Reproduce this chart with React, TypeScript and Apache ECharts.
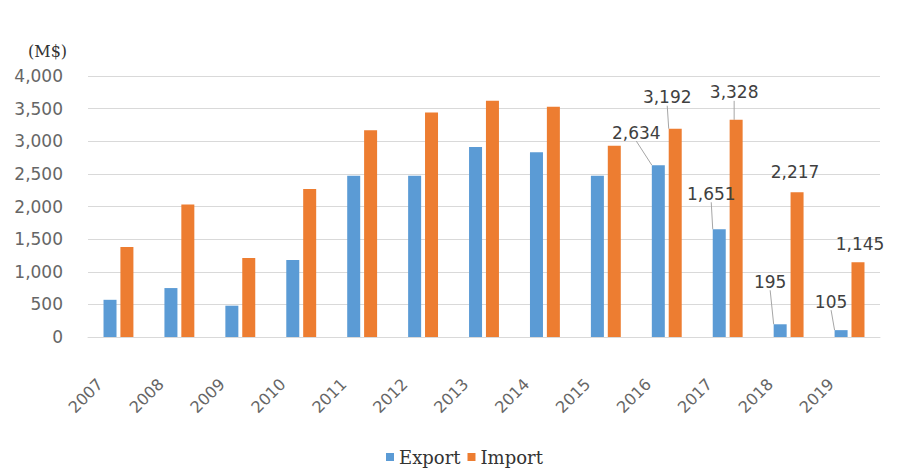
import React, { useEffect, useRef } from "react";
import * as echarts from "echarts";

const years = ["2007", "2008", "2009", "2010", "2011", "2012", "2013", "2014", "2015", "2016", "2017", "2018", "2019"];
const exportValues = [570, 750, 480, 1180, 2470, 2470, 2910, 2830, 2470, 2634, 1651, 195, 105];
const importValues = [1380, 2030, 1210, 2270, 3170, 3440, 3620, 3530, 2930, 3192, 3328, 2217, 1145];
const labeledIndices = [9, 10, 11, 12];
const unitLabel = "(M$)";
const seriesNames = ["Export", "Import"];

// label displacement (styling only): [dx, dy, showLine]
const labelShift: Record<string, [number, number, boolean]> = {
  "0-9": [-22, -19, true],
  "0-10": [-8, -22, true],
  "0-11": [-10, -29, true],
  "0-12": [-10, -15, true],
  "1-9": [-8, -18, true],
  "1-10": [-2, -14, true],
  "1-11": [-2, -7, false],
  "1-12": [2, -5, false],
};

const fmt = (v: number) => v.toLocaleString("en-US");

function buildData(values: number[], seriesIndex: number) {
  return values.map((v, i) => {
    if (!labeledIndices.includes(i)) return { value: v };
    const s = labelShift[`${seriesIndex}-${i}`];
    return {
      value: v,
      label: { show: true },
      labelLine: { show: s ? s[2] : false },
    };
  });
}

export default function App() {
  const ref = useRef<HTMLDivElement>(null);
  useEffect(() => {
    if (!ref.current) return;
    const chart = echarts.init(ref.current, undefined, { renderer: "svg" });
    const labelCommon = {
      show: false,
      position: "top",
      distance: 5,
      fontFamily: "DejaVu Sans",
      fontSize: 17,
      color: "#404040",
      formatter: (p: any) => fmt(p.value),
    };
    const labelLineCommon = {
      show: false,
      lineStyle: { color: "#a6a6a6", width: 1 },
    };
    const labelLayout = (params: any) => {
      const s = labelShift[`${params.seriesIndex}-${params.dataIndex}`];
      if (!s) return {};
      return { dx: s[0], dy: s[1] };
    };
    chart.setOption({
      animation: false,
      backgroundColor: "#ffffff",
      title: {
        text: unitLabel,
        left: 23,
        top: 38,
        textStyle: { fontFamily: "DejaVu Serif", fontSize: 16, fontWeight: "normal", color: "#333333" },
      },
      legend: {
        data: seriesNames,
        left: 381,
        top: 443,
        icon: "rect",
        itemWidth: 8,
        itemHeight: 8,
        itemGap: 7,
        textStyle: { fontFamily: "DejaVu Serif", fontSize: 18, color: "#333333" },
      },
      grid: { left: 88, right: 20, top: 76, bottom: 132, containLabel: false },
      xAxis: {
        type: "category",
        data: years,
        axisLine: { lineStyle: { color: "#d9d9d9" } },
        axisTick: { show: false },
        axisLabel: {
          interval: 0,
          rotate: 45,
          margin: 26,
          padding: [0, 26, 0, 0],
          fontFamily: "DejaVu Sans",
          fontSize: 16,
          color: "#666666",
        },
      },
      yAxis: {
        type: "value",
        min: 0,
        max: 4000,
        interval: 500,
        axisLine: { show: false },
        axisTick: { show: false },
        splitLine: { lineStyle: { color: "#d9d9d9" } },
        axisLabel: {
          margin: 25,
          fontFamily: "DejaVu Sans",
          fontSize: 17,
          color: "#666666",
          formatter: (v: number) => fmt(v),
        },
      },
      series: [
        {
          name: seriesNames[0],
          type: "bar",
          data: buildData(exportValues, 0),
          barWidth: 13,
          barGap: "30%",
          itemStyle: { color: "#5B9BD5" },
          label: labelCommon,
          labelLine: labelLineCommon,
          labelLayout,
        },
        {
          name: seriesNames[1],
          type: "bar",
          data: buildData(importValues, 1),
          barWidth: 13,
          barGap: "30%",
          itemStyle: { color: "#ED7D31" },
          label: labelCommon,
          labelLine: labelLineCommon,
          labelLayout,
        },
      ],
    });
    return () => chart.dispose();
  }, []);
  return (
    <div
      ref={ref}
      style={{ position: "fixed", left: 0, top: 0, width: 900, height: 469, background: "#fff" }}
    />
  );
}
